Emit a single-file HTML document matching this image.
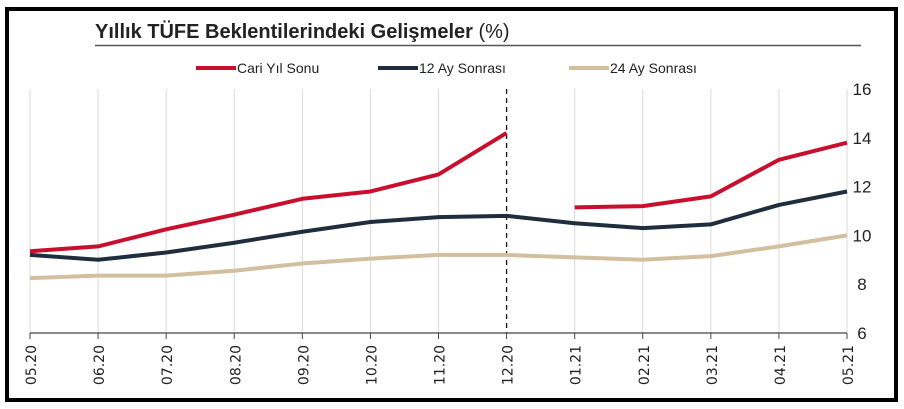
<!DOCTYPE html>
<html><head><meta charset="utf-8"><style>
html,body{margin:0;padding:0;background:#fff;}
svg{display:block;}
</style></head><body>
<svg id="chart" width="904" height="409" xmlns="http://www.w3.org/2000/svg">
<rect x="7" y="9" width="889" height="391" fill="#fff" stroke="#000" stroke-width="4"/>
<text x="95" y="38" font-family="'Liberation Sans Narrow','Liberation Sans',sans-serif" font-size="20" font-weight="bold" fill="#222">Yıllık TÜFE Beklentilerindeki Gelişmeler <tspan font-weight="normal">(%)</tspan></text>
<line x1="95" y1="45.5" x2="861" y2="45.5" stroke="#555" stroke-width="1.5"/>
<g id="legend" font-family="'Liberation Sans Narrow','Liberation Sans',sans-serif" font-size="14" fill="#222"></g>
<g id="grid"></g><g id="axes"></g><g id="series"></g>
</svg>
<script>
const categories=["05.20","06.20","07.20","08.20","09.20","10.20","11.20","12.20","01.21","02.21","03.21","04.21","05.21"];
const cariYil=[9.35,9.55,10.25,10.85,11.5,11.8,12.5,14.2,11.15,11.2,11.6,13.1,13.8];
const ay12=[9.2,9.0,9.3,9.7,10.15,10.55,10.75,10.8,10.5,10.3,10.45,11.25,11.8];
const ay24=[8.25,8.35,8.35,8.55,8.85,9.05,9.2,9.2,9.1,9.0,9.15,9.55,10.0];
const yTicks=[6,8,10,12,14,16];
const seriesNames=["Cari Yıl Sonu","12 Ay Sonrası","24 Ay Sonrası"];
const NS="http://www.w3.org/2000/svg";
const X0=30,X1=847,Y0=333,Y1=89,YMIN=6,YMAX=16;
const x=i=>X0+(X1-X0)*i/(categories.length-1);
const y=v=>Y0-(v-YMIN)/(YMAX-YMIN)*(Y0-Y1);
function mk(tag,attrs,parent){const e=document.createElementNS(NS,tag);for(const k in attrs)e.setAttribute(k,attrs[k]);parent.appendChild(e);return e;}
const grid=document.getElementById('grid'),axes=document.getElementById('axes'),ser=document.getElementById('series'),leg=document.getElementById('legend');
categories.forEach((c,i)=>{
 if(i>0&&i!==7){const g=mk('line',{x1:x(i),x2:x(i),y1:Y1,y2:Y0,stroke:'#d9d9d9','stroke-width':1},grid);
 
 }
 const t=mk('line',{x1:x(i),x2:x(i),y1:Y0,y2:Y0+6,stroke:'#444','stroke-width':1},axes);
 
 
 const lb=mk('text',{x:0,y:0,transform:`translate(${x(i)+6},${Y0+12}) rotate(-90)`,'text-anchor':'end','font-family':'DejaVu Sans,sans-serif','font-size':14,fill:'#222'},axes);
 lb.textContent=c;
 
 
});
const gl=mk('line',{x1:X0,x2:X0,y1:Y1,y2:Y0,stroke:'#d9d9d9','stroke-width':1},grid);


const dl=mk('line',{x1:x(7),x2:x(7),y1:Y1,y2:Y0,stroke:'#111','stroke-width':1.3,'stroke-dasharray':'5,4'},grid);


const ax=mk('line',{x1:X0,x2:X1,y1:Y0,y2:Y0,stroke:'#444','stroke-width':1.3},axes);


yTicks.forEach(v=>{const t=mk('text',{x:862,y:y(v)+6,'text-anchor':'middle','font-family':"'Liberation Sans Narrow','Liberation Sans',sans-serif",'font-size':17,fill:'#222'},axes);
 t.textContent=v;
 
 });
function line(vals,idx,color,name){const pts=idx.map(i=>`${x(i)},${y(vals[i])}`).join(' ');
 const p=mk('polyline',{points:pts,fill:'none',stroke:color,'stroke-width':4,'stroke-linejoin':'round'},ser);
 
 }
const all=categories.map((_,i)=>i);
line(ay24,all,'#d2bfa0','series-24-ay');
line(ay12,all,'#1f2d3d','series-12-ay');
line(cariYil,[0,1,2,3,4,5,6,7],'#c8102e','series-cari-yil-2020');
line(cariYil,[8,9,10,11,12],'#c8102e','series-cari-yil-2021');
const colors=['#c8102e','#1f2d3d','#d2bfa0'],lx=[196,378,569];
seriesNames.forEach((n,i)=>{const r=mk('rect',{x:lx[i],y:66,width:40,height:4,fill:colors[i]},leg);
 
 
 const t=mk('text',{x:lx[i]+41,y:73},leg);t.textContent=n;
 
 });
</script>
</body></html>
